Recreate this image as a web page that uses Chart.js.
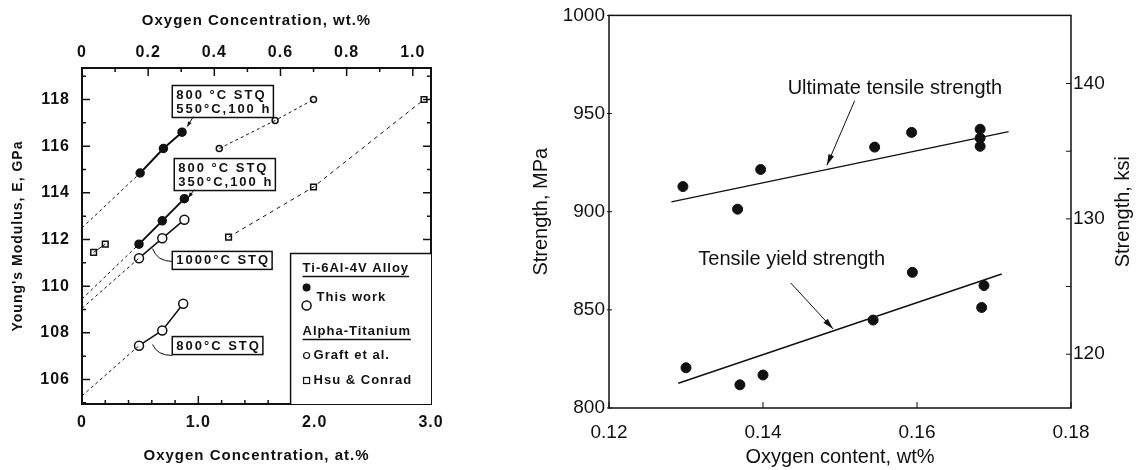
<!DOCTYPE html>
<html>
<head>
<meta charset="utf-8">
<script src="https://cdn.jsdelivr.net/npm/chart.js@4.4.0/dist/chart.umd.min.js"></script>
<style>
  html, body { margin: 0; padding: 0; background: #fff; }
  #wrap { position: relative; width: 1139px; height: 470px; overflow: hidden; }
  canvas { position: absolute; top: 0; }
  #left { left: 0; }
  #right { left: 520px; }
</style>
</head>
<body>
<div id="wrap">
  <canvas id="left" width="520" height="470"></canvas>
  <canvas id="right" width="619" height="470"></canvas>
</div>
<script>
// ---------- left panel: Young's modulus vs oxygen ----------
const atTicks = [0, 1, 2, 3];
const atLabels = ['0', '1.0', '2.0', '3.0'];
const wtTicks = [0, 0.2, 0.4, 0.6, 0.8, 1.0];
const wtLabels = ['0', '0.2', '0.4', '0.6', '0.8', '1.0'];
const gpaTicks = [106, 108, 110, 112, 114, 116, 118];

const stq550_at = [0.50, 0.70, 0.86];
const stq550_E = [114.85, 115.9, 116.6];
const stq350_at = [0.49, 0.69, 0.88];
const stq350_E = [111.8, 112.8, 113.75];
const stq1000_at = [0.49, 0.69, 0.88];
const stq1000_E = [111.2, 112.05, 112.85];
const stq800_at = [0.49, 0.69, 0.87];
const stq800_E = [107.45, 108.1, 109.25];
const graft_at = [1.18, 1.66, 1.99];
const graft_E = [115.9, 117.1, 118.0];
const hsu_at = [0.10, 0.20, 1.26, 1.99, 2.94];
const hsu_E = [111.45, 111.8, 112.1, 114.25, 118.0];
// value of each dashed extrapolation at 0 at.% (550, 350, 1000, 800)
const extrap0_E = [112.5, 109.45, 109.05, 105.3];

// ---------- right panel: strength vs oxygen ----------
const wtTicksR = [0.12, 0.14, 0.16, 0.18];
const mpaTicks = [800, 850, 900, 950, 1000];
const ksiTicks = [120, 130, 140];
const uts_wt = [0.1296, 0.1367, 0.1397, 0.1545, 0.1593, 0.1682, 0.1682, 0.1682];
const uts_mpa = [912.8, 901.3, 921.5, 932.9, 940.4, 942.0, 937.5, 933.3];
const ys_wt = [0.1300, 0.1370, 0.1400, 0.1543, 0.1594, 0.1687, 0.1684];
const ys_mpa = [820.5, 811.8, 816.8, 844.8, 869.1, 862.4, 851.2];
const utsFit_wt = [0.1281, 0.1719];
const utsFit_mpa = [905.0, 940.8];
const ysFit_wt = [0.1290, 0.1710];
const ysFit_mpa = [812.6, 868.3];

const INK = '#111';
const boldFont = '"Liberation Sans", Arial, sans-serif';

function pts(xs, ys) {
  return xs.map((x, i) => ({x: x, y: ys[i]}));
}

function arrow(ctx, x1, y1, x2, y2, len, half) {
  ctx.beginPath();
  ctx.moveTo(x1, y1);
  ctx.lineTo(x2, y2);
  ctx.stroke();
  const a = Math.atan2(y2 - y1, x2 - x1);
  ctx.beginPath();
  ctx.moveTo(x2, y2);
  ctx.lineTo(x2 - len * Math.cos(a) + half * Math.sin(a), y2 - len * Math.sin(a) - half * Math.cos(a));
  ctx.lineTo(x2 - len * Math.cos(a) - half * Math.sin(a), y2 - len * Math.sin(a) + half * Math.cos(a));
  ctx.closePath();
  ctx.fill();
}

// ---------- left chart ----------
const boxLabels = [
  {lines: ['800 °C STQ', '550°C,100 h'], x: 0.776, y: 118.6},
  {lines: ['800 °C STQ', '350°C,100 h'], x: 0.793, y: 115.47},
  {lines: ['1000°C STQ'], x: 0.776, y: 111.49},
  {lines: ['800°C STQ'], x: 0.776, y: 107.84}
];

function lineSet(xs, ys, width, dash) {
  return {data: pts(xs, ys), showLine: true, borderColor: INK, borderWidth: width,
          borderDash: dash, pointRadius: 0};
}

function markSet(xs, ys, r, filled, style, line) {
  return {data: pts(xs, ys), showLine: !!line, borderColor: INK, borderWidth: line || 0,
          pointRadius: r, pointStyle: style || 'circle', pointBorderColor: INK,
          pointBorderWidth: 1.5, pointBackgroundColor: filled ? INK : '#fff'};
}

const leftDeco = {
  id: 'leftDeco',
  beforeDraw(chart) {
    chart.ctx.letterSpacing = '1px';
  },
  afterDraw(chart) {
    const {ctx, chartArea: a, scales} = chart;
    const X = scales.x, X2 = scales.x2, Y = scales.y;
    ctx.save();
    ctx.strokeStyle = INK;
    ctx.fillStyle = INK;
    ctx.lineWidth = 2;
    ctx.strokeRect(a.left, a.top, a.right - a.left, a.bottom - a.top);

    // inward ticks
    ctx.lineWidth = 1.5;
    ctx.beginPath();
    for (let v = 0; v <= 3.001; v += 0.2) {
      const px = X.getPixelForValue(v);
      const major = Math.abs(v - Math.round(v)) < 0.01;
      ctx.moveTo(px, a.bottom); ctx.lineTo(px, a.bottom - (major ? 8 : 4));
    }
    for (let v = 0; v <= 1.05; v += 0.1) {
      const px = X2.getPixelForValue(v);
      const major = Math.abs(v * 5 - Math.round(v * 5)) < 0.01;
      ctx.moveTo(px, a.top); ctx.lineTo(px, a.top + (major ? 8 : 4));
    }
    for (let v = 105; v <= 119; v += 1) {
      const py = Y.getPixelForValue(v);
      const len = v % 2 === 0 ? 8 : 4;
      ctx.moveTo(a.left, py); ctx.lineTo(a.left + len, py);
      ctx.moveTo(a.right, py); ctx.lineTo(a.right - len, py);
    }
    ctx.stroke();

    // boxed labels
    ctx.font = 'bold 13px ' + boldFont;
    ctx.textBaseline = 'middle';
    ctx.textAlign = 'left';
    ctx.letterSpacing = '2px';
    boxLabels.forEach(b => {
      const x = X.getPixelForValue(b.x), y = Y.getPixelForValue(b.y);
      const w = Math.max(...b.lines.map(t => ctx.measureText(t).width)) + 6;
      const h = b.lines.length * 14 + 4;
      ctx.fillStyle = '#fff';
      ctx.fillRect(x, y, w, h);
      ctx.lineWidth = 1.5;
      ctx.strokeRect(x, y, w, h);
      ctx.fillStyle = INK;
      b.lines.forEach((t, i) => ctx.fillText(t, x + 4, y + 9.5 + i * 14));
    });

    // leaders
    ctx.lineWidth = 1;
    const P = (x, y) => [X.getPixelForValue(x), Y.getPixelForValue(y)];
    let s = P(0.957, 117.27), e = P(0.905, 116.84);
    arrow(ctx, s[0], s[1], e[0], e[1], 5, 2);
    s = P(0.966, 114.14); e = P(0.914, 113.8);
    arrow(ctx, s[0], s[1], e[0], e[1], 5, 2);
    [[111.06, 111.61], [107.03, 107.5]].forEach(([y0, y1]) => {
      const p0 = P(0.776, y0), c = P(0.647, y0), p1 = P(0.606, y1);
      ctx.beginPath();
      ctx.moveTo(p0[0], p0[1]);
      ctx.quadraticCurveTo(c[0], c[1], p1[0], p1[1]);
      ctx.stroke();
    });

    // legend box
    const lx = X.getPixelForValue(1.793), ly = Y.getPixelForValue(111.4);
    ctx.fillStyle = '#fff';
    ctx.fillRect(lx, ly, a.right - lx, a.bottom - ly);
    ctx.lineWidth = 1.5;
    ctx.beginPath();
    ctx.moveTo(lx, a.bottom); ctx.lineTo(lx, ly); ctx.lineTo(a.right, ly);
    ctx.stroke();
    ctx.fillStyle = INK;
    ctx.letterSpacing = '1px';
    ctx.font = 'bold 13px ' + boldFont;
    const head = (t, y) => {
      ctx.fillText(t, lx + 12, y);
      const w = ctx.measureText(t).width;
      ctx.beginPath();
      ctx.moveTo(lx + 12, y + 8); ctx.lineTo(lx + 12 + w, y + 8);
      ctx.stroke();
    };
    head('Ti-6Al-4V Alloy', ly + 15);
    ctx.beginPath(); ctx.arc(lx + 16, ly + 34, 4, 0, Math.PI * 2); ctx.fill();
    ctx.beginPath(); ctx.arc(lx + 16, ly + 52, 4.5, 0, Math.PI * 2); ctx.stroke();
    ctx.fillText('This work', lx + 26, ly + 44);
    head('Alpha-Titanium', ly + 78);
    ctx.lineWidth = 1.2;
    ctx.beginPath(); ctx.arc(lx + 16, ly + 102, 3, 0, Math.PI * 2); ctx.stroke();
    ctx.fillText('Graft et al.', lx + 23, ly + 102);
    ctx.strokeRect(lx + 13, ly + 124, 6, 6);
    ctx.fillText('Hsu & Conrad', lx + 23, ly + 127);
    ctx.restore();
  }
};

const noGrid = {display: false, drawTicks: false};

new Chart(document.getElementById('left'), {
  type: 'scatter',
  data: {
    datasets: [
      lineSet([0, stq550_at[0]], [extrap0_E[0], stq550_E[0]], 1, [3, 3]),
      lineSet([0, stq350_at[0]], [extrap0_E[1], stq350_E[0]], 1, [3, 3]),
      lineSet([0, stq1000_at[0]], [extrap0_E[2], stq1000_E[0]], 1, [3, 3]),
      lineSet([0, stq800_at[0]], [extrap0_E[3], stq800_E[0]], 1, [3, 3]),
      lineSet(graft_at, graft_E, 1, [3, 3]),
      lineSet(hsu_at.slice(2), hsu_E.slice(2), 1, [4, 4]),
      lineSet(hsu_at.slice(0, 2), hsu_E.slice(0, 2), 1, []),
      markSet(stq550_at, stq550_E, 4, true, 'circle', 2),
      markSet(stq350_at, stq350_E, 4, true, 'circle', 2),
      markSet(stq1000_at, stq1000_E, 4.5, false, 'circle', 1.5),
      markSet(stq800_at, stq800_E, 4.5, false, 'circle', 1.5),
      markSet(graft_at, graft_E, 3, false, 'circle'),
      markSet(hsu_at, hsu_E, 4, false, 'rect')
    ]
  },
  options: {
    responsive: false,
    animation: false,
    layout: {padding: {right: 89}},
    plugins: {legend: {display: false}, tooltip: {enabled: false}},
    scales: {
      x: {
        type: 'linear', position: 'bottom', min: 0, max: 3,
        afterFit: s => { s.height = 66; },
        afterBuildTicks: s => { s.ticks = atTicks.map(v => ({value: v})); },
        grid: noGrid, border: {display: false},
        ticks: {callback: (v, i) => atLabels[i], color: INK, padding: 9, maxRotation: 0,
                font: {family: boldFont, size: 16, weight: 'bold'}},
        title: {display: true, text: 'Oxygen Concentration, at.%', color: INK,
                font: {family: boldFont, size: 15, weight: 'bold'}, padding: {top: 0, bottom: 5}}
      },
      x2: {
        type: 'linear', position: 'top', min: 0, max: 1.055,
        afterFit: s => { s.height = 68; },
        afterBuildTicks: s => { s.ticks = wtTicks.map(v => ({value: v})); },
        grid: noGrid, border: {display: false},
        ticks: {callback: (v, i) => wtLabels[i], color: INK, padding: 6, maxRotation: 0,
                font: {family: boldFont, size: 16, weight: 'bold'}},
        title: {display: true, text: 'Oxygen Concentration, wt.%', color: INK,
                font: {family: boldFont, size: 15, weight: 'bold'}, padding: {top: 12, bottom: 0}}
      },
      y: {
        type: 'linear', position: 'left', min: 104.95, max: 119.35,
        afterFit: s => { s.width = 82; },
        afterBuildTicks: s => { s.ticks = gpaTicks.map(v => ({value: v})); },
        grid: noGrid, border: {display: false},
        ticks: {color: INK, padding: 12, font: {family: boldFont, size: 16, weight: 'bold'}},
        title: {display: true, text: "Young's Modulus, E, GPa", color: INK,
                font: {family: boldFont, size: 14, weight: 'bold'}, padding: {top: 10, bottom: 0}}
      }
    }
  },
  plugins: [leftDeco]
});

// ---------- right chart ----------
const MPA_PER_KSI = 6.895;
const notes = [
  {text: 'Ultimate tensile strength', x: 0.1432, y: 962.6, from: [0.1519, 956.5], to: [0.1483, 923.7]},
  {text: 'Tensile yield strength', x: 0.1316, y: 875.7, from: [0.1436, 863.7], to: [0.1491, 840.3]}
];
const plainFont = '"Liberation Sans", Arial, Helvetica, sans-serif';

const rightDeco = {
  id: 'rightDeco',
  afterDraw(chart) {
    const {ctx, chartArea: a, scales} = chart;
    const X = scales.x, Y = scales.y, Y2 = scales.y2;
    ctx.save();
    ctx.strokeStyle = INK;
    ctx.fillStyle = INK;
    ctx.lineWidth = 1.5;
    ctx.strokeRect(a.left, a.top, a.right - a.left, a.bottom - a.top);
    ctx.lineWidth = 1;
    ctx.beginPath();
    wtTicksR.forEach(v => {
      const px = X.getPixelForValue(v);
      ctx.moveTo(px, a.bottom); ctx.lineTo(px, a.bottom - 6);
    });
    mpaTicks.forEach(v => {
      const py = Y.getPixelForValue(v);
      ctx.moveTo(a.left - 2, py); ctx.lineTo(a.left + 3, py);
    });
    for (let v = 120; v <= 140; v += 5) {
      const py = Y2.getPixelForValue(v);
      ctx.moveTo(a.right, py); ctx.lineTo(a.right - 5, py);
    }
    ctx.stroke();

    // annotations
    ctx.font = '20px ' + plainFont;
    ctx.textBaseline = 'middle';
    ctx.textAlign = 'left';
    notes.forEach(n => {
      ctx.fillText(n.text, X.getPixelForValue(n.x), Y.getPixelForValue(n.y));
      arrow(ctx, X.getPixelForValue(n.from[0]), Y.getPixelForValue(n.from[1]),
            X.getPixelForValue(n.to[0]), Y.getPixelForValue(n.to[1]), 11, 3);
    });

    // right axis title, reading bottom to top
    ctx.font = '20px ' + plainFont;
    ctx.textAlign = 'center';
    ctx.translate(603, (a.top + a.bottom) / 2);
    ctx.rotate(-Math.PI / 2);
    ctx.fillText('Strength, ksi', 0, 0);
    ctx.restore();
  }
};

new Chart(document.getElementById('right'), {
  type: 'scatter',
  data: {
    datasets: [
      {data: pts(utsFit_wt, utsFit_mpa), showLine: true, borderColor: INK, borderWidth: 1.5, pointRadius: 0},
      {data: pts(ysFit_wt, ysFit_mpa), showLine: true, borderColor: INK, borderWidth: 1.5, pointRadius: 0},
      {data: pts(uts_wt, uts_mpa), pointRadius: 5, pointBackgroundColor: INK, pointBorderColor: INK},
      {data: pts(ys_wt, ys_mpa), pointRadius: 5, pointBackgroundColor: INK, pointBorderColor: INK}
    ]
  },
  options: {
    responsive: false,
    animation: false,
    layout: {padding: {top: 10}},
    plugins: {legend: {display: false}, tooltip: {enabled: false}},
    scales: {
      x: {
        type: 'linear', position: 'bottom', min: 0.12, max: 0.18,
        afterFit: s => { s.height = 62; },
        afterBuildTicks: s => { s.ticks = wtTicksR.map(v => ({value: v})); },
        grid: noGrid, border: {display: false},
        ticks: {callback: v => v.toFixed(2), color: INK, padding: 13, maxRotation: 0,
                font: {family: plainFont, size: 19}},
        title: {display: true, text: 'Oxygen content, wt%', color: INK,
                font: {family: plainFont, size: 20}, padding: {top: 0, bottom: 1}}
      },
      y: {
        type: 'linear', position: 'left', min: 800, max: 1000,
        afterFit: s => { s.width = 89; },
        afterBuildTicks: s => { s.ticks = mpaTicks.map(v => ({value: v})); },
        grid: noGrid, border: {display: false},
        ticks: {callback: v => String(v), color: INK, padding: 4, font: {family: plainFont, size: 19}},
        title: {display: true, text: 'Strength, MPa', color: INK,
                font: {family: plainFont, size: 20}, padding: {top: 9, bottom: 0}}
      },
      y2: {
        type: 'linear', position: 'right',
        min: 800 / MPA_PER_KSI, max: 1000 / MPA_PER_KSI,
        afterFit: s => { s.width = 68; },
        afterBuildTicks: s => { s.ticks = ksiTicks.map(v => ({value: v})); },
        grid: noGrid, border: {display: false},
        ticks: {callback: v => String(v), color: INK, padding: 2, font: {family: plainFont, size: 19}}
      }
    }
  },
  plugins: [rightDeco]
});
</script>
</body>
</html>
